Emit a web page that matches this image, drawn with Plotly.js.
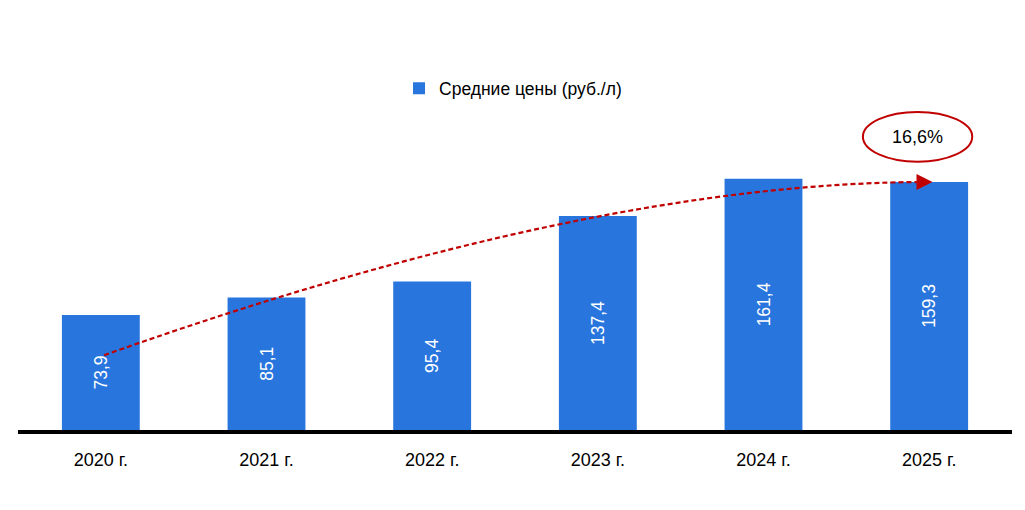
<!DOCTYPE html>
<html>
<head>
<meta charset="utf-8">
<script src="https://cdn.plot.ly/plotly-3.0.1.min.js"></script>
<style>
  html, body { margin: 0; padding: 0; background: #fff; }
  #chart { width: 1025px; height: 510px; }
</style>
</head>
<body>
<div id="chart"></div>
<script>
// Данные графика
const years = ['2020 г.', '2021 г.', '2022 г.', '2023 г.', '2024 г.', '2025 г.'];
const prices = [73.9, 85.1, 95.4, 137.4, 161.4, 159.3];
const seriesName = 'Средние цены (руб./л)';
const growthLabel = '16,6%';

const blue = '#2876DD';
const red = '#C00000';
const font = 'Liberation Sans, Arial, sans-serif';

const bars = {
    type: 'bar',
    name: seriesName,
    x: years,
    y: prices,
    marker: { color: blue },
    text: prices.map(v => v.toFixed(1).replace('.', ',')),
    textposition: 'inside',
    insidetextanchor: 'middle',
    textangle: -90,
    textfont: { family: font, size: 17.5, color: '#ffffff' },
    hoverinfo: 'x+y',
    showlegend: true
};

// Стрелка: от середины первого столбца к вершине последнего
const last = prices.length - 1;
const startY = prices[0] * 0.65;
const endY = prices[last];
const curve = `M 0.02,${startY} Q 2.97,${endY} ${last},${endY}`;

// Эллипс с приростом над последним столбцом
const ellX = last - 0.07;
const ellY = endY + 29;

const layout = {
    width: 1025,
    height: 510,
    margin: { t: 103, b: 80, l: 18, r: 13 },
    paper_bgcolor: '#ffffff',
    plot_bgcolor: '#ffffff',
    bargap: 0.53,
    separators: ', ',
    font: { family: font, size: 17, color: '#000000' },
    showlegend: true,
    legend: {
        orientation: 'h',
        x: 0.498, xanchor: 'center',
        y: 1.045, yanchor: 'middle',
        font: { family: font, size: 17.5, color: '#000000' },
        itemwidth: 30
    },
    xaxis: {
        type: 'category',
        showline: true,
        linecolor: '#000000',
        linewidth: 4,
        showgrid: false,
        zeroline: false,
        ticks: '',
        ticklabelstandoff: 10,
        tickfont: { family: font, size: 18, color: '#000000' }
    },
    yaxis: {
        visible: false,
        range: [0, 210],
        fixedrange: true
    },
    shapes: [
        {
            type: 'path',
            xref: 'x', yref: 'y',
            path: curve,
            line: { color: red, width: 2.2, dash: '5px,3px' }
        },
        {
            type: 'circle',
            xref: 'x', yref: 'y',
            x0: ellX - 0.33, x1: ellX + 0.33,
            y0: ellY - 16, y1: ellY + 16,
            line: { color: red, width: 2 },
            fillcolor: 'rgba(0,0,0,0)'
        }
    ],
    annotations: [
        {
            x: last + 0.02, y: endY,
            xref: 'x', yref: 'y',
            text: '',
            showarrow: true,
            ax: -10, ay: 0,
            arrowhead: 2,
            arrowsize: 1.6,
            arrowwidth: 2,
            arrowcolor: red
        },
        {
            x: ellX, y: ellY,
            xref: 'x', yref: 'y',
            text: growthLabel,
            showarrow: false,
            font: { family: font, size: 18, color: '#000000' }
        }
    ]
};

Plotly.newPlot('chart', [bars], layout, { displayModeBar: false, staticPlot: true });
</script>
</body>
</html>
